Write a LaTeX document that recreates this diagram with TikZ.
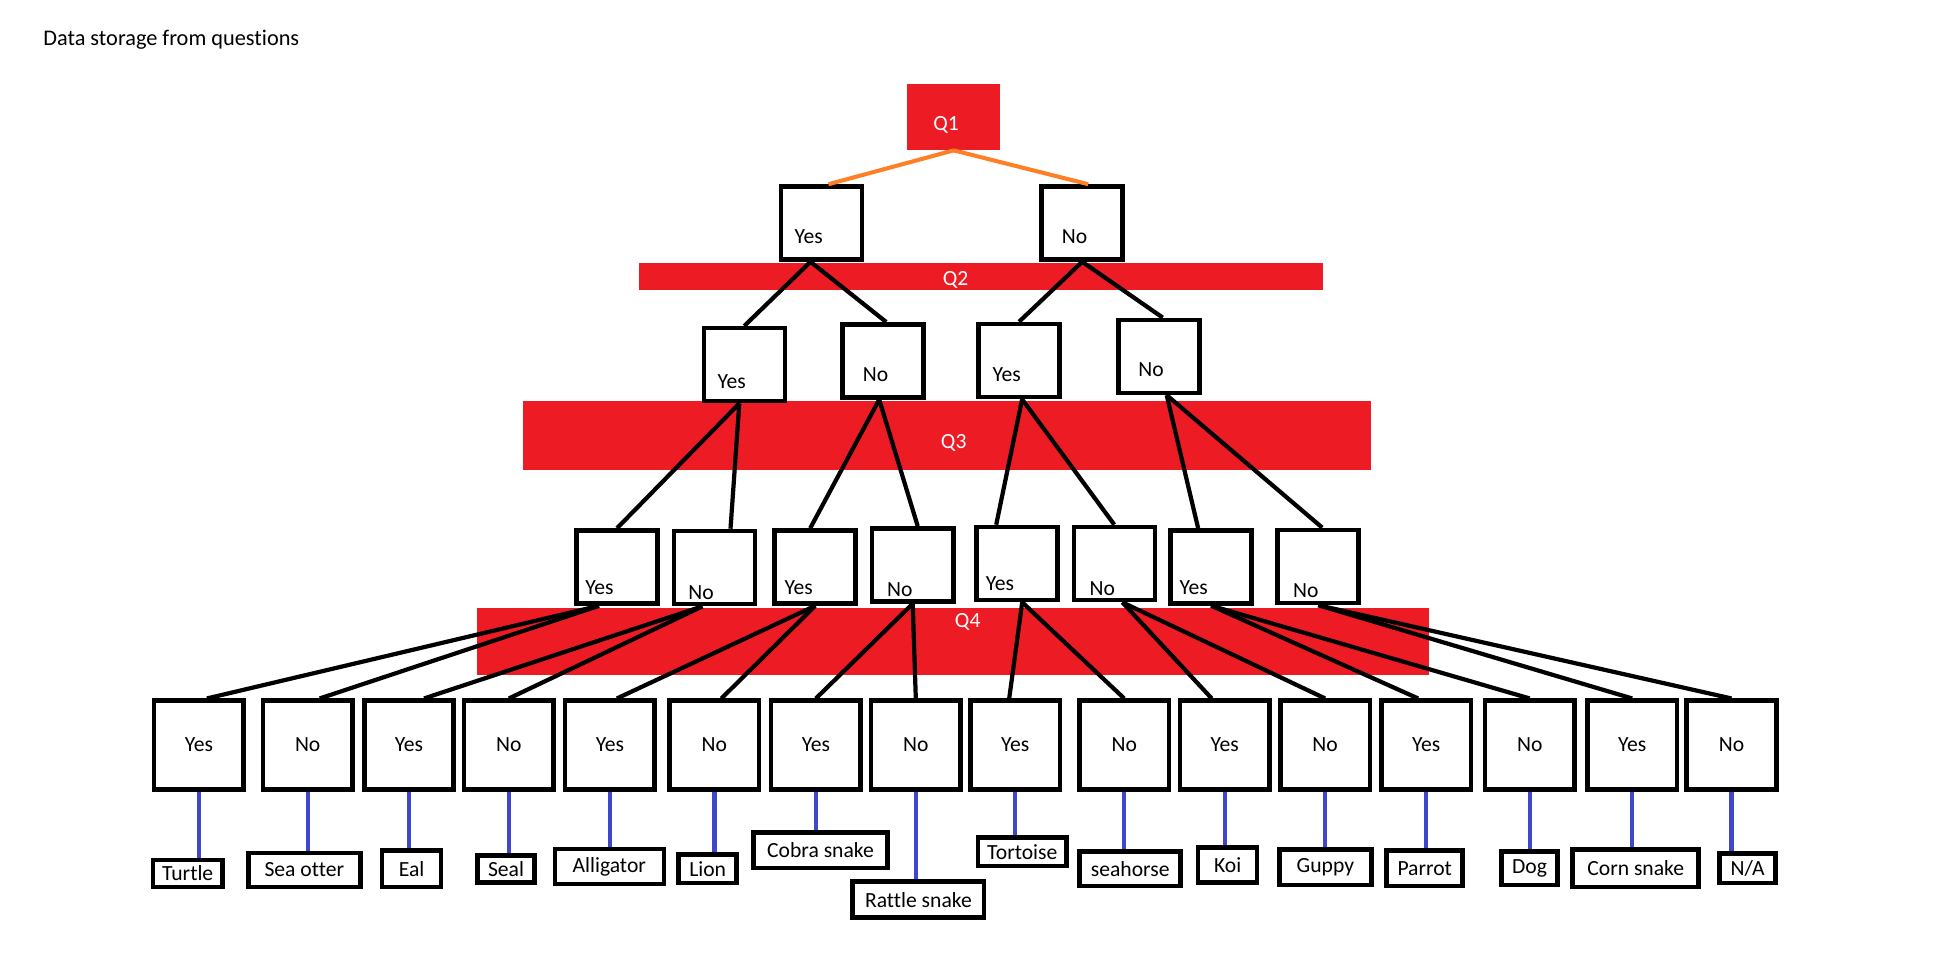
\documentclass[tikz,border=0pt]{standalone}
\usepackage{fontspec}
\setmainfont{Carlito}[Ligatures=NoCommon]
\usetikzlibrary{calc}

\definecolor{qred}{HTML}{ED1C24}
\definecolor{qorange}{HTML}{FF7F27}
\definecolor{qblue}{HTML}{3F48CC}

\begin{document}
\begin{tikzpicture}[x=0.2mm, y=-0.2mm, every node/.style={font=\fontsize{12.3}{14}\selectfont, inner sep=0pt}, qbar/.style={rectangle, fill=qred}, qtext/.style={text=white}, box/.style={rectangle, draw=black, fill=white, line width=2.6pt}, ans/.style={box, minimum width=16.2mm, minimum height=14.6mm}, leaf/.style={box, minimum width=17.9mm, minimum height=17.7mm}, link/.style={black, line width=2.4pt}, orange link/.style={qorange, line width=2.3pt}, pet link/.style={qblue, line width=2.4pt}]

    \useasboundingbox (0,0) rectangle (1947,967);

    % Title
    \node[anchor=base west, font=\fontsize{12.7}{15}\selectfont] (title) at (43,45.7) {Data storage from questions};

    % Question bars
    \node[qbar, minimum width=18.5mm, minimum height=13.2mm] (q1) at (953.7,117) {};
    \node[qtext] (q1t) at (946,125) {Q1};
    \node[qbar, minimum width=136.9mm, minimum height=5.5mm] (q2) at (981.2,276.4) {};
    \node[qtext] (q2t) at (955.6,280) {Q2};
    \node[qbar, minimum width=169.6mm, minimum height=13.8mm] (q3) at (947,435.5) {};
    \node[qtext] (q3t) at (953.7,442.7) {Q3};
    \node[qbar, minimum width=190.4mm, minimum height=13.3mm] (q4) at (952.7,641.7) {};
    \node[qtext] (q4t) at (967.7,621.7) {Q4};

    % Answers to Q1
    \node[ans] (yes1) at (821.5,223) {};
    \node (yes1t) at (808.7,236.7) {Yes};
    \node[ans] (no1) at (1082.2,223) {};
    \node (no1t) at (1074.5,236.7) {No};

    % Answers to Q2
    \node[ans] (yes2a) at (744.3,364.7) {};
    \node (yes2at) at (731.6,381.7) {Yes};
    \node[ans] (no2a) at (883.2,360.8) {};
    \node (no2at) at (875.5,375) {No};
    \node[ans] (yes2b) at (1019.1,360.5) {};
    \node (yes2bt) at (1006.6,375) {Yes};
    \node[ans] (no2b) at (1158.7,356.4) {};
    \node (no2bt) at (1151,369.3) {No};

    % Answers to Q3
    \node[ans] (yes3a) at (617,567) {};
    \node (yes3at) at (599.4,587.3) {Yes};
    \node[ans] (no3a) at (714.5,567.5) {};
    \node (no3at) at (701.1,592.7) {No};
    \node[ans] (yes3b) at (815.2,567) {};
    \node (yes3bt) at (798.7,587.3) {Yes};
    \node[ans] (no3b) at (912.7,564.9) {};
    \node (no3bt) at (899.7,590) {No};
    \node[ans] (yes3c) at (1017.2,563.5) {};
    \node (yes3ct) at (1000,583.3) {Yes};
    \node[ans] (no3c) at (1114.3,563.5) {};
    \node (no3ct) at (1102.4,588.3) {No};
    \node[ans] (yes3d) at (1211.1,566.9) {};
    \node (yes3dt) at (1193.6,587.3) {Yes};
    \node[ans] (no3d) at (1318.2,566.4) {};
    \node (no3dt) at (1305.8,591) {No};

    % Answers to Q4
    \node[leaf] (yes4a) at (198.9,745) {Yes};
    \node[leaf] (no4a) at (307.7,745) {No};
    \node[leaf] (yes4b) at (409,745) {Yes};
    \node[leaf] (no4b) at (508.9,745) {No};
    \node[leaf] (yes4c) at (609.9,745) {Yes};
    \node[leaf] (no4c) at (714.4,745) {No};
    \node[leaf] (yes4d) at (815.9,745) {Yes};
    \node[leaf] (no4d) at (915.8,745) {No};
    \node[leaf] (yes4e) at (1015.2,745) {Yes};
    \node[leaf] (no4e) at (1124.2,745) {No};
    \node[leaf] (yes4f) at (1224.7,745) {Yes};
    \node[leaf] (no4f) at (1325.1,745) {No};
    \node[leaf] (yes4g) at (1426.1,745) {Yes};
    \node[leaf] (no4g) at (1529.7,745) {No};
    \node[leaf] (yes4h) at (1632.2,745) {Yes};
    \node[leaf] (no4h) at (1731.5,745) {No};

    % Animals
    \node[box, minimum width=13.9mm, minimum height=5.4mm] (turtle) at (187.7,873.5) {Turtle};
    \node[box, minimum width=22.4mm, minimum height=6.8mm] (seaotter) at (304.3,870) {Sea otter};
    \node[box, minimum width=11.8mm, minimum height=7.3mm] (eal) at (411.6,868.8) {Eal};
    \node[box, minimum width=11.3mm, minimum height=5.4mm] (seal) at (506,868.8) {Seal};
    \node[box, minimum width=21.8mm, minimum height=7mm] (alligator) at (609.3,866.7) {Alligator};
    \node[box, minimum width=11.6mm, minimum height=5.7mm] (lion) at (707.7,868.8) {Lion};
    \node[box, minimum width=26.7mm, minimum height=7.1mm] (cobra) at (820.5,850.3) {Cobra snake};
    \node[box, minimum width=26.3mm, minimum height=7.2mm] (rattle) at (918.4,899.7) {Rattle snake};
    \node[box, minimum width=17.7mm, minimum height=5.7mm] (tortoise) at (1022.3,851.8) {Tortoise};
    \node[box, minimum width=20.2mm, minimum height=6.9mm] (seahorse) at (1130.2,868.8) {seahorse};
    \node[box, minimum width=11.8mm, minimum height=7mm] (koi) at (1227.6,865.2) {Koi};
    \node[box, minimum width=18.4mm, minimum height=7.1mm] (guppy) at (1325.4,867.3) {Guppy};
    \node[box, minimum width=15.2mm, minimum height=7.1mm] (parrot) at (1424.7,868.3) {Parrot};
    \node[box, minimum width=11.2mm, minimum height=6.7mm] (dog) at (1529.5,868.3) {Dog};
    \node[box, minimum width=25.2mm, minimum height=7.5mm] (corn) at (1635.7,868.3) {Corn snake};
    \node[box, minimum width=11.2mm, minimum height=5.9mm] (na) at (1747.6,868.3) {N/A};

    % Q1 edges
    \draw[orange link] (q1.south) -- ($(yes1.north)+(7,0)$);
    \draw[orange link] (q1.south) -- ($(no1.north)+(6,0)$);

    % Q2 edges
    \draw[link] ($(yes1.south)+(-11,0)$) -- (yes2a.north);
    \draw[link] ($(yes1.south)+(-11,0)$) -- ($(no2a.north)+(3,0)$);
    \draw[link] (no1.south) -- (yes2b.north);
    \draw[link] (no1.south) -- ($(no2b.north)+(4,0)$);

    % Q3 edges
    \draw[link] ($(yes2a.south)+(-5,0)$) -- (yes3a.north);
    \draw[link] ($(yes2a.south)+(-5,0)$) -- ($(no3a.north)+(16,0)$);
    \draw[link] ($(no2a.south)+(-4,0)$) -- ($(yes3b.north)+(-5,0)$);
    \draw[link] ($(no2a.south)+(-4,0)$) -- ($(no3b.north)+(5,0)$);
    \draw[link] ($(yes2b.south)+(3,0)$) -- ($(yes3c.north)+(-21,0)$);
    \draw[link] ($(yes2b.south)+(3,0)$) -- (no3c.north);
    \draw[link] ($(no2b.south)+(8,0)$) -- ($(yes3d.north)+(-13,0)$);
    \draw[link] ($(no2b.south)+(8,0)$) -- ($(no3d.north)+(4,0)$);

    % Q4 edges
    \draw[link] ($(yes3a.south)+(-18,0)$) -- ($(yes4a.north)+(8,0)$);
    \draw[link] ($(yes3a.south)+(-18,0)$) -- ($(no4a.north)+(12,0)$);
    \draw[link] ($(no3a.south)+(-12,0)$) -- ($(yes4b.north)+(15,0)$);
    \draw[link] ($(no3a.south)+(-12,0)$) -- (no4b.north);
    \draw[link] (yes3b.south) -- ($(yes4c.north)+(7,0)$);
    \draw[link] (yes3b.south) -- ($(no4c.north)+(7,0)$);
    \draw[link] (no3b.south) -- (yes4d.north);
    \draw[link] (no3b.south) -- (no4d.north);
    \draw[link] ($(yes3c.south)+(5,0)$) -- ($(yes4e.north)+(-6,0)$);
    \draw[link] ($(yes3c.south)+(5,0)$) -- (no4e.north);
    \draw[link] ($(no3c.south)+(8,0)$) -- ($(yes4f.north)+(-13,0)$);
    \draw[link] ($(no3c.south)+(8,0)$) -- (no4f.north);
    \draw[link] (yes3d.south) -- ($(yes4g.north)+(-8,0)$);
    \draw[link] (yes3d.south) -- (no4g.north);
    \draw[link] (no3d.south) -- (yes4h.north);
    \draw[link] (no3d.south) -- (no4h.north);

    % Animal edges
    \draw[pet link] (yes4a.south) -- (yes4a.south |- turtle.north);
    \draw[pet link] (no4a.south) -- (no4a.south |- seaotter.north);
    \draw[pet link] (yes4b.south) -- (yes4b.south |- eal.north);
    \draw[pet link] (no4b.south) -- (no4b.south |- seal.north);
    \draw[pet link] (yes4c.south) -- (yes4c.south |- alligator.north);
    \draw[pet link] (no4c.south) -- (no4c.south |- lion.north);
    \draw[pet link] (yes4d.south) -- (yes4d.south |- cobra.north);
    \draw[pet link] (no4d.south) -- (no4d.south |- rattle.north);
    \draw[pet link] (yes4e.south) -- (yes4e.south |- tortoise.north);
    \draw[pet link] (no4e.south) -- (no4e.south |- seahorse.north);
    \draw[pet link] (yes4f.south) -- (yes4f.south |- koi.north);
    \draw[pet link] (no4f.south) -- (no4f.south |- guppy.north);
    \draw[pet link] (yes4g.south) -- (yes4g.south |- parrot.north);
    \draw[pet link] (no4g.south) -- (no4g.south |- dog.north);
    \draw[pet link] (yes4h.south) -- (yes4h.south |- corn.north);
    \draw[pet link] (no4h.south) -- (no4h.south |- na.north);

\end{tikzpicture}
\end{document}
